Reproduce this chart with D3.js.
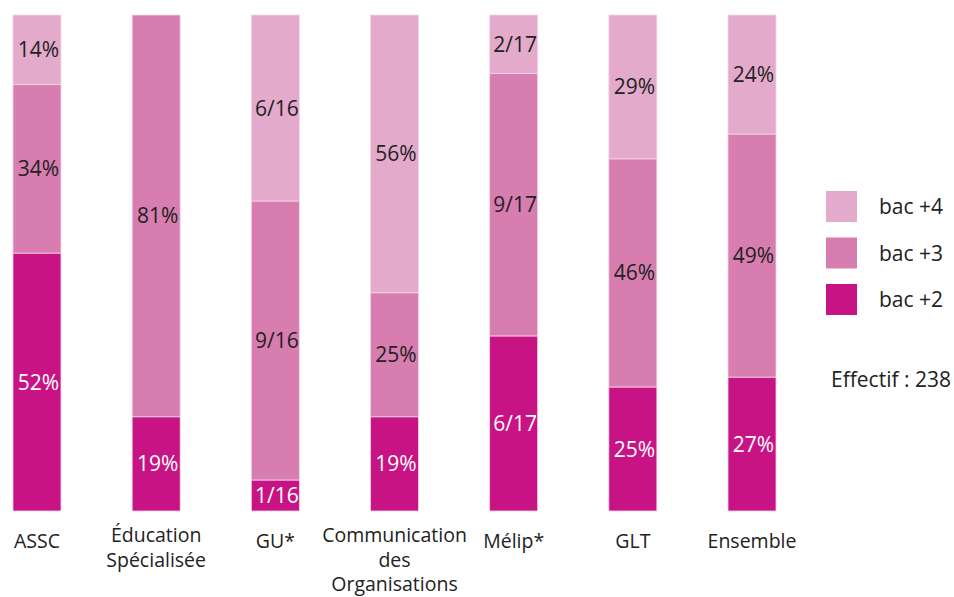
<!DOCTYPE html>
<html><head><meta charset="utf-8">
<script src="https://cdn.jsdelivr.net/npm/d3@7"></script>
<style>body{margin:0;background:#fff}svg{display:block}</style>
</head><body>
<svg id="c" width="954" height="597"></svg>
<script>
const categories = [["ASSC"],["Éducation","Spécialisée"],["GU*"],["Communication","des","Organisations"],["Mélip*"],["GLT"],["Ensemble"]];
const seriesNames = ["bac +2","bac +3","bac +4"];
const bac2 = [0.52, 0.19, 1/16, 0.19, 6/17, 0.25, 0.27];
const bac3 = [0.34, 0.81, 9/16, 0.25, 9/17, 0.46, 0.49];
const bac4 = [0.14, 0, 6/16, 0.56, 2/17, 0.29, 0.24];
const labels2 = ["52%","19%","1/16","19%","6/17","25%","27%"];
const labels3 = ["34%","81%","9/16","25%","9/17","46%","49%"];
const labels4 = ["14%","","6/16","56%","2/17","29%","24%"];
const effectif = "Effectif : 238";
const colors = ["#c81384","#d77db0","#e4aacb"];
const textColors = ["#ffffff","#222222","#222222"];

const svg = d3.select("#c");
const font = "'Open Sans', sans-serif";
const keys = categories.map(c => c.join(" "));
const rows = keys.map((k,i)=>({key:k, s0:bac2[i], s1:bac3[i], s2:bac4[i], l0:labels2[i], l1:labels3[i], l2:labels4[i]}));
const stack = d3.stack().keys(["s0","s1","s2"])(rows);

const x = d3.scaleBand().domain(keys).range([-22.6, 811.6]).paddingInner(0.597).paddingOuter(0.2985);
const y = d3.scaleLinear().domain([0,1]).range([511,15]);

const g = svg.append("g");
stack.forEach((layer, si) => {
  const lg = g.append("g");
  lg.selectAll("rect").data(layer.filter(d => d[1]-d[0] > 0)).join("rect")
    .attr("x", d => x(d.data.key))
    .attr("width", x.bandwidth())
    .attr("y", d => y(d[1]))
    .attr("height", d => y(d[0]) - y(d[1]))
    .attr("fill", colors[si])
    .attr("stroke", "#f6d6e8").attr("stroke-width", 0.8);
});
stack.forEach((layer, si) => {
  g.append("g").selectAll("text").data(layer.filter(d => d[1]-d[0] > 0)).join("text")
    .attr("x", d => x(d.data.key) + x.bandwidth()/2 + 1.5)
    .attr("y", d => (y(d[0]) + y(d[1]))/2)
    .attr("dy", "0.36em")
    .attr("text-anchor", "middle")
    .attr("font-family", font).attr("font-size", 21)
    .attr("fill", textColors[si])
    .text(d => d.data["l"+si]);
});

// category labels
const cl = svg.append("g");
categories.forEach((lines, i) => {
  const cx = x(keys[i]) + x.bandwidth()/2;
  const t = cl.append("text")
    .attr("x", cx)
    .attr("y", lines.length > 1 ? 542 : 548)
    .attr("text-anchor", "middle")
    .attr("font-family", font).attr("font-size", 19.5).attr("fill", "#222");
  lines.forEach((ln, j) => t.append("tspan").attr("x", cx).attr("dy", j ? 24.5 : 0).text(ln));
});

// legend
const leg = svg.append("g");
const order = [2,1,0];
order.forEach((si, j) => {
  leg.append("rect").attr("x", 826).attr("y", 191 + j*46.5).attr("width", 31).attr("height", 31).attr("fill", colors[si]);
  leg.append("text").attr("x", 879).attr("y", 206.5 + j*46.5).attr("dy","0.36em")
    .attr("font-family", font).attr("font-size", 21).attr("fill", "#222").text(seriesNames[si]);
});
leg.append("text").attr("x", 831).attr("y", 379).attr("dy","0.36em")
  .attr("font-family", font).attr("font-size", 21).attr("fill", "#222").text(effectif);
</script>
</body></html>
